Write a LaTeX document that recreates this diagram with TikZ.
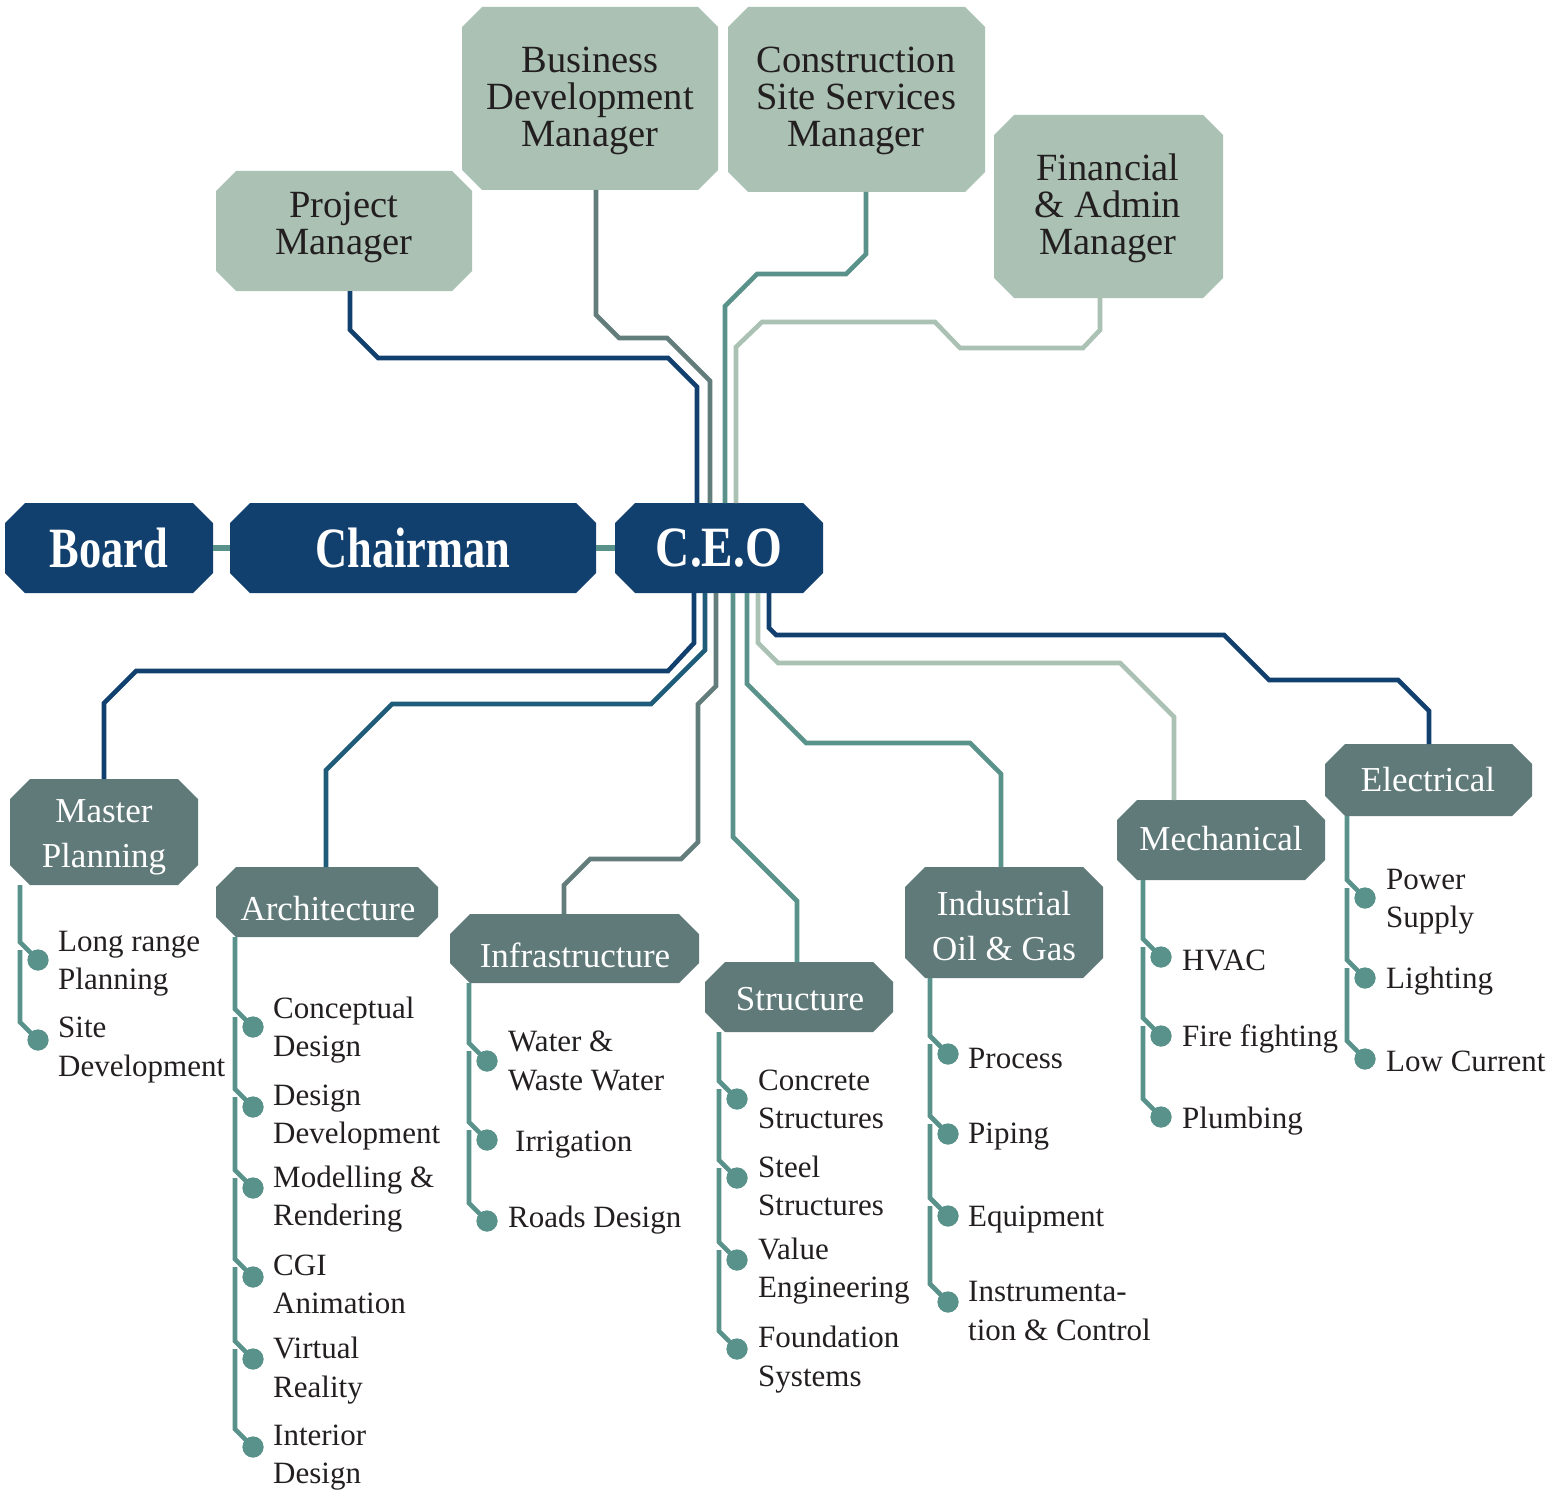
\documentclass[tikz,border=0pt]{standalone}
\usepackage{fontspec}
\setmainfont{Liberation Serif}
\usetikzlibrary{calc}
\definecolor{navy}{RGB}{18,64,110}
\definecolor{sage}{RGB}{170,193,180}
\definecolor{slate}{RGB}{96,122,121}
\definecolor{tealc}{RGB}{88,146,138}
\definecolor{archc}{RGB}{31,92,121}
\definecolor{bdc}{RGB}{99,125,125}
\definecolor{ink}{RGB}{35,31,32}
\newcommand\chamf{20pt}
\newcommand\obox[6]{%
  \node[inner sep=0, outer sep=0, minimum width={(#4)-(#2)}, minimum height={(#5)-(#3)}] (#1) at ({((#2)+(#4))/2},{((#3)+(#5))/2}) {};
  \fill[#6] ([xshift=\chamf]#1.north west) -- ([xshift=-\chamf]#1.north east) -- ([yshift=-\chamf]#1.north east) -- ([yshift=\chamf]#1.south east) -- ([xshift=-\chamf]#1.south east) -- ([xshift=\chamf]#1.south west) -- ([yshift=\chamf]#1.south west) -- ([yshift=-\chamf]#1.north west) -- cycle;
}
\newcommand\firstseg[2]{\draw[rail] (#1.south -| #2) ++(-18,0) -- ([shift={(-18,-18)}]#2.center) -- (#2.center);}
\newcommand\nextseg[2]{\draw[rail] ([shift={(-18,-10)}]#1.center) -- ([shift={(-18,-18)}]#2.center) -- (#2.center);}
\tikzset{
  conn/.style={line width=4.6pt},
  rail/.style={line width=4.6pt, draw=tealc},
  bul/.style={circle, fill=tealc, inner sep=0, outer sep=0, minimum size=21pt},
  item/.style={anchor=west, inner sep=0, yshift=-6pt, align=left, font=\fontsize{31}{38.5}\selectfont, text=ink, execute at begin node=\strut, execute at end node=\strut},
  toptext/.style={align=center, inner sep=0, yshift=-4pt, font=\fontsize{38.5}{37}\selectfont, text=ink},
  depttext/.style={align=center, inner sep=0, yshift=-4pt, font=\fontsize{35}{44.5}\selectfont, text=white},
  bigtext/.style={inner sep=0, font=\fontsize{57}{60}\selectfont\bfseries, text=white},
}
\begin{document}
\begin{tikzpicture}[x=1pt, y=-1pt]
\useasboundingbox (0,0) rectangle (1555,1490);
% boxes
\obox{pm}{216}{171}{472}{291}{sage}
\obox{bd}{462}{7}{718}{190}{sage}
\obox{cs}{728}{7}{985}{192}{sage}
\obox{fa}{994}{115}{1223}{298}{sage}
\obox{board}{5}{503}{213}{593}{navy}
\obox{chair}{230}{503}{596}{593}{navy}
\obox{ceo}{615}{503}{823}{593}{navy}
\obox{mp}{10}{779}{198}{885}{slate}
\obox{arch}{216}{867}{438}{937}{slate}
\obox{infra}{450}{914}{699}{983}{slate}
\obox{struct}{705}{962}{893}{1032}{slate}
\obox{ind}{905}{867}{1103}{978}{slate}
\obox{mech}{1117}{800}{1325}{880}{slate}
\obox{elec}{1325}{744}{1532}{816}{slate}
% top connectors
\draw[conn,navy] ([xshift=6pt]pm.south) -- (350,330) -- (378,358) -- (668,358) -- (697,387) -- ([xshift=-22pt]ceo.north);
\draw[conn,bdc] ([xshift=6pt]bd.south) -- (596,315) -- (619,338) -- (667,338) -- (710,381) -- ([xshift=-9pt]ceo.north);
\draw[conn,tealc] ([xshift=9.5pt]cs.south) -- (866,254) -- (846,274) -- (757,274) -- (725,306) -- ([xshift=6pt]ceo.north);
\draw[conn,sage] ([xshift=-8.5pt]fa.south) -- (1100,330) -- (1083,348) -- (960,348) -- (935,322) -- (762,322) -- (736,347) -- ([xshift=17pt]ceo.north);
% chain
\draw[line width=6pt,tealc] (board.east) -- (chair.west);
\draw[line width=6pt,tealc] (chair.east) -- (ceo.west);
% bottom connectors
\draw[conn,navy] ([xshift=-25pt]ceo.south) -- (694,643) -- (668,671) -- (136,671) -- (104,703) -- (mp.north);
\draw[conn,archc] ([xshift=-14pt]ceo.south) -- (705,650) -- (651,704) -- (392,704) -- (326,770) -- ([xshift=-1pt]arch.north);
\draw[conn,bdc] ([xshift=-3pt]ceo.south) -- (716,686) -- (698,704) -- (698,842) -- (681,859) -- (590,859) -- (564,885) -- ([xshift=-10.5pt]infra.north);
\draw[conn,tealc] ([xshift=14pt]ceo.south) -- (733,837) -- (797,901) -- ([xshift=-2pt]struct.north);
\draw[conn,tealc] ([xshift=28pt]ceo.south) -- (747,684) -- (806,743) -- (970,743) -- (1001,774) -- ([xshift=-3pt]ind.north);
\draw[conn,sage] ([xshift=39pt]ceo.south) -- (758,643) -- (778,663) -- (1120,663) -- (1174,717) -- ([xshift=-47pt]mech.north);
\draw[conn,navy] ([xshift=50pt]ceo.south) -- (769,628) -- (776,635) -- (1224,635) -- (1269,680) -- (1398,680) -- (1429,711) -- ([xshift=0.5pt]elec.north);
% box texts
\node[toptext] (pmt) at (344,223.5) {Project\\Manager};
\node[toptext] (bdt) at (590,97) {Business\\Development\\Manager};
\node[toptext] (cst) at (856,97) {Construction\\Site Services\\Manager};
\node[toptext] (fat) at (1108,204.5) {Financial\\\& Admin\\Manager};
\node[bigtext] (boardt) at (109,548) {\scalebox{0.78}[1]{Board}};
\node[bigtext] (chairt) at (413,548) {\scalebox{0.78}[1]{Chairman}};
\node[bigtext] (ceot) at (719,548) {\scalebox{0.83}[1]{C.E.O}};
\node[depttext] (mpt) at (104,833.5) {Master\\Planning};
\node[depttext] (archt) at (328,905) {Architecture};
\node[depttext] (infrat) at (575,951) {Infrastructure};
\node[depttext] (structt) at (800,995) {Structure};
\node[depttext] (indt) at (1004,922) {Industrial\\Oil \& Gas};
\node[depttext] (mecht) at (1221,835) {Mechanical};
\node[depttext] (elect) at (1428,776) {Electrical};
% bullets
\node[bul] (mp1) at (38,960) {};
\node[bul] (mp2) at (38,1040) {};
\node[bul] (a1) at (253,1027) {};
\node[bul] (a2) at (253,1107) {};
\node[bul] (a3) at (253,1188) {};
\node[bul] (a4) at (253,1277) {};
\node[bul] (a5) at (253,1359) {};
\node[bul] (a6) at (253,1447) {};
\node[bul] (i1) at (487,1061) {};
\node[bul] (i2) at (487,1140) {};
\node[bul] (i3) at (487,1221) {};
\node[bul] (s1) at (737,1099) {};
\node[bul] (s2) at (737,1178) {};
\node[bul] (s3) at (737,1260) {};
\node[bul] (s4) at (737,1349) {};
\node[bul] (n1) at (948,1054) {};
\node[bul] (n2) at (948,1134) {};
\node[bul] (n3) at (948,1216) {};
\node[bul] (n4) at (948,1302) {};
\node[bul] (m1) at (1161,957) {};
\node[bul] (m2) at (1161,1036) {};
\node[bul] (m3) at (1161,1117) {};
\node[bul] (e1) at (1365,898) {};
\node[bul] (e2) at (1365,978) {};
\node[bul] (e3) at (1365,1059) {};
% rails
\firstseg{mp}{mp1} \nextseg{mp1}{mp2}
\firstseg{arch}{a1} \nextseg{a1}{a2} \nextseg{a2}{a3} \nextseg{a3}{a4} \nextseg{a4}{a5} \nextseg{a5}{a6}
\firstseg{infra}{i1} \nextseg{i1}{i2} \nextseg{i2}{i3}
\firstseg{struct}{s1} \nextseg{s1}{s2} \nextseg{s2}{s3} \nextseg{s3}{s4}
\firstseg{ind}{n1} \nextseg{n1}{n2} \nextseg{n2}{n3} \nextseg{n3}{n4}
\firstseg{mech}{m1} \nextseg{m1}{m2} \nextseg{m2}{m3}
\firstseg{elec}{e1} \nextseg{e1}{e2} \nextseg{e2}{e3}
% bullets on top of rails
\foreach \b in {mp1,mp2,a1,a2,a3,a4,a5,a6,i1,i2,i3,s1,s2,s3,s4,n1,n2,n3,n4,m1,m2,m3,e1,e2,e3}
  \fill[tealc] (\b.center) circle[radius=10.5pt];
% item texts
\node[item] (mp1t) at (58,960) {Long range\\Planning};
\node[item] (mp2t) at (58,1046.5) {Site\\Development};
\node[item] (a1t) at (273,1026.5) {Conceptual\\Design};
\node[item] (a2t) at (273,1114) {Design\\Development};
\node[item] (a3t) at (273,1195.5) {Modelling \&\\Rendering};
\node[item] (a4t) at (273,1284) {CGI\\Animation};
\node[item] (a5t) at (273,1367) {Virtual\\Reality};
\node[item] (a6t) at (273,1454) {Interior\\Design};
\node[item] (i1t) at (508,1060.5) {Water \&\\Waste Water};
\node[item] (i2t) at (515,1138) {Irrigation};
\node[item] (i3t) at (508,1214) {Roads Design};
\node[item] (s1t) at (758,1099) {Concrete\\Structures};
\node[item] (s2t) at (758,1185.5) {Steel\\Structures};
\node[item] (s3t) at (758,1267.5) {Value\\Engineering};
\node[item] (s4t) at (758,1356) {Foundation\\Systems};
\node[item] (n1t) at (968,1055) {Process};
\node[item] (n2t) at (968,1130) {Piping};
\node[item] (n3t) at (968,1213) {Equipment};
\node[item] (n4t) at (968,1310.5) {Instrumenta-\\tion \& Control};
\node[item] (m1t) at (1182,957) {HVAC};
\node[item] (m2t) at (1182,1033) {Fire fighting};
\node[item] (m3t) at (1182,1115) {Plumbing};
\node[item] (e1t) at (1386,898) {Power\\Supply};
\node[item] (e2t) at (1386,975) {Lighting};
\node[item] (e3t) at (1386,1058) {Low Current};
\end{tikzpicture}
\end{document}
